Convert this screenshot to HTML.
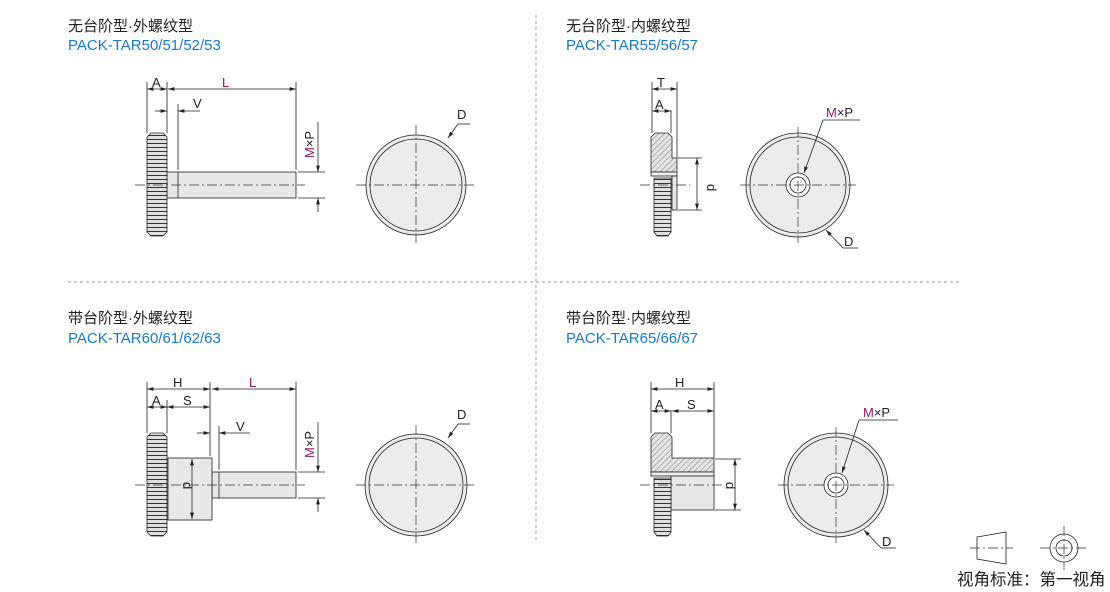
<!DOCTYPE html>
<html><head><meta charset="utf-8"><style>
html,body{margin:0;padding:0;background:#fff;width:1110px;height:592px;overflow:hidden}
svg{display:block}
text{font-family:"Liberation Sans","Noto Sans CJK SC",sans-serif}
</style></head><body>
<svg width="1110" height="592" viewBox="0 0 1110 592" xmlns="http://www.w3.org/2000/svg">
<defs>
<pattern id="h" width="4" height="4" patternUnits="userSpaceOnUse" patternTransform="rotate(45)">
<rect width="4" height="4" fill="#e4e4e4"/><line x1="0" y1="0" x2="0" y2="4" stroke="#666" stroke-width="0.8"/></pattern>
<pattern id="k" width="20" height="4" patternUnits="userSpaceOnUse">
<rect width="20" height="4" fill="#e0e0e0"/><line x1="0" y1="3.5" x2="20" y2="3.5" stroke="#333" stroke-width="1.1"/></pattern>
<marker id="a" viewBox="0 0 10 6" refX="10" refY="3" markerWidth="8" markerHeight="5" orient="auto-start-reverse"><path d="M0,0L10,3L0,6z" fill="#222"/></marker>
</defs>
<g font-size="15">
<text x="68" y="31" fill="#222">无台阶型·外螺纹型</text>
<text x="68" y="50" fill="#1a7ac8">PACK-TAR50/51/52/53</text>
<text x="566" y="31" fill="#222">无台阶型·内螺纹型</text>
<text x="566" y="50" fill="#1a7ac8">PACK-TAR55/56/57</text>
<text x="68" y="323" fill="#222">带台阶型·外螺纹型</text>
<text x="68" y="343" fill="#1a7ac8">PACK-TAR60/61/62/63</text>
<text x="566" y="323" fill="#222">带台阶型·内螺纹型</text>
<text x="566" y="343" fill="#1a7ac8">PACK-TAR65/66/67</text>
</g>
<g stroke="#999" stroke-width="1" stroke-dasharray="3,3" fill="none">
<line x1="536" y1="15" x2="536" y2="540"/><line x1="68" y1="282" x2="962" y2="282"/>
</g>
<g stroke="#222" stroke-width="0.8" fill="none">
<rect x="167" y="172" width="129" height="26" fill="#e8e8e8"/>
<line x1="178" y1="172" x2="178" y2="198"/>
<path d="M151,133h12l4,4v95l-4,4h-12l-4,-4v-95z" fill="url(#k)"/>
<line x1="147" y1="82" x2="147" y2="133"/><line x1="167" y1="82" x2="167" y2="133"/><line x1="296" y1="82" x2="296" y2="170"/><line x1="178" y1="104" x2="178" y2="170"/>
<line x1="147" y1="89" x2="167" y2="89" marker-start="url(#a)" marker-end="url(#a)"/>
<line x1="168" y1="89" x2="296" y2="89" marker-start="url(#a)" marker-end="url(#a)"/>
<line x1="155" y1="111" x2="167" y2="111" marker-end="url(#a)"/><line x1="200" y1="111" x2="178" y2="111" marker-end="url(#a)"/>
<line x1="298" y1="172" x2="325" y2="172"/><line x1="298" y1="198" x2="325" y2="198"/>
<line x1="318" y1="122" x2="318" y2="172" marker-end="url(#a)"/><line x1="318" y1="212" x2="318" y2="198" marker-end="url(#a)"/>
<circle cx="416" cy="185" r="50" fill="#ececec"/><circle cx="416" cy="185" r="46"/>
<line x1="448" y1="138" x2="458" y2="124" marker-start="url(#a)"/><line x1="458" y1="124" x2="470" y2="124"/>
<path d="M655,133h13l4,4v21h5v14h-26v-35z" fill="url(#h)"/>
<rect x="651" y="172" width="26" height="4" fill="#eee"/>
<rect x="672" y="176" width="5" height="34" fill="#e8e8e8"/>
<path d="M654,178h17v54l-3,4h-11l-3,-4z" fill="url(#k)"/>
<line x1="652" y1="82" x2="652" y2="133"/><line x1="677" y1="82" x2="677" y2="158"/><line x1="671" y1="110" x2="671" y2="133"/>
<line x1="652" y1="89" x2="677" y2="89" marker-start="url(#a)" marker-end="url(#a)"/>
<line x1="652" y1="111" x2="671" y2="111" marker-start="url(#a)" marker-end="url(#a)"/>
<line x1="678" y1="158" x2="702" y2="158"/><line x1="678" y1="210" x2="702" y2="210"/>
<line x1="697" y1="158" x2="697" y2="210" marker-start="url(#a)" marker-end="url(#a)"/>
<circle cx="798" cy="185" r="52" fill="#ececec"/><circle cx="798" cy="185" r="48"/>
<circle cx="798" cy="185" r="12" fill="#fff"/><circle cx="798" cy="185" r="8"/>
<line x1="823" y1="120" x2="804" y2="173" marker-end="url(#a)"/><line x1="823" y1="120" x2="860" y2="120"/>
<line x1="843" y1="248" x2="826" y2="230" marker-end="url(#a)"/><line x1="843" y1="248" x2="858" y2="248"/>
<rect x="212" y="472" width="84" height="26" fill="#e8e8e8"/><line x1="219" y1="472" x2="219" y2="498"/>
<rect x="168" y="458" width="44" height="62" fill="#e8e8e8"/>
<path d="M151,433h12l4,4v95l-4,4h-12l-4,-4v-95z" fill="url(#k)"/>
<line x1="147" y1="382" x2="147" y2="433"/><line x1="167" y1="400" x2="167" y2="433"/><line x1="210" y1="382" x2="210" y2="456"/><line x1="296" y1="382" x2="296" y2="470"/><line x1="219" y1="426" x2="219" y2="470"/>
<line x1="147" y1="389" x2="210" y2="389" marker-start="url(#a)" marker-end="url(#a)"/>
<line x1="212" y1="389" x2="296" y2="389" marker-start="url(#a)" marker-end="url(#a)"/>
<line x1="147" y1="407" x2="167" y2="407" marker-start="url(#a)" marker-end="url(#a)"/>
<line x1="167" y1="407" x2="210" y2="407" marker-start="url(#a)" marker-end="url(#a)"/>
<line x1="197" y1="433" x2="210" y2="433" marker-end="url(#a)"/><line x1="250" y1="433" x2="219" y2="433" marker-end="url(#a)"/>
<line x1="192" y1="459" x2="192" y2="519" marker-start="url(#a)" marker-end="url(#a)"/>
<line x1="298" y1="472" x2="325" y2="472"/><line x1="298" y1="498" x2="325" y2="498"/>
<line x1="318" y1="422" x2="318" y2="472" marker-end="url(#a)"/><line x1="318" y1="512" x2="318" y2="498" marker-end="url(#a)"/>
<circle cx="416" cy="485" r="51" fill="#ececec"/><circle cx="416" cy="485" r="47"/>
<line x1="448" y1="438" x2="458" y2="424" marker-start="url(#a)"/><line x1="458" y1="424" x2="470" y2="424"/>
<path d="M655,433h13l4,4v21h42v14h-63v-35z" fill="url(#h)"/>
<rect x="651" y="472" width="63" height="4" fill="#eee"/>
<rect x="671" y="476" width="43" height="34" fill="#e8e8e8"/>
<path d="M654,478h17v54l-3,4h-11l-3,-4z" fill="url(#k)"/>
<line x1="651" y1="382" x2="651" y2="433"/><line x1="671" y1="410" x2="671" y2="433"/><line x1="714" y1="382" x2="714" y2="458"/>
<line x1="651" y1="389" x2="714" y2="389" marker-start="url(#a)" marker-end="url(#a)"/>
<line x1="651" y1="411" x2="671" y2="411" marker-start="url(#a)" marker-end="url(#a)"/>
<line x1="672" y1="411" x2="714" y2="411" marker-start="url(#a)" marker-end="url(#a)"/>
<line x1="715" y1="459" x2="741" y2="459"/><line x1="715" y1="510" x2="741" y2="510"/>
<line x1="735" y1="459" x2="735" y2="510" marker-start="url(#a)" marker-end="url(#a)"/>
<circle cx="836" cy="485" r="52" fill="#ececec"/><circle cx="836" cy="485" r="48"/>
<circle cx="836" cy="485" r="12" fill="#fff"/><circle cx="836" cy="485" r="8"/>
<line x1="859" y1="420" x2="842" y2="473" marker-end="url(#a)"/><line x1="859" y1="420" x2="898" y2="420"/>
<line x1="881" y1="548" x2="864" y2="530" marker-end="url(#a)"/><line x1="881" y1="548" x2="896" y2="548"/>
<path d="M977,537L1006,532V564L977,559z" fill="none"/>
<circle cx="1064" cy="548" r="14"/><circle cx="1064" cy="548" r="8"/>
</g>
<g stroke="#333" stroke-width="0.7" stroke-dasharray="10,3,2,3" fill="none">
<line x1="135" y1="185" x2="305" y2="185"/><line x1="356" y1="185" x2="476" y2="185"/><line x1="416" y1="125" x2="416" y2="245"/>
<line x1="640" y1="185" x2="690" y2="185"/><line x1="740" y1="185" x2="856" y2="185"/><line x1="798" y1="127" x2="798" y2="243"/>
<line x1="135" y1="485" x2="305" y2="485"/><line x1="356" y1="485" x2="476" y2="485"/><line x1="416" y1="425" x2="416" y2="545"/>
<line x1="640" y1="485" x2="725" y2="485"/><line x1="778" y1="485" x2="894" y2="485"/><line x1="836" y1="427" x2="836" y2="543"/>
<line x1="970" y1="548" x2="1013" y2="548"/><line x1="1040" y1="548" x2="1088" y2="548"/><line x1="1064" y1="526" x2="1064" y2="570"/>
</g>
<g font-size="13" fill="#222">
<text x="152" y="87">A</text><text x="222" y="87" fill="#8a1a6e">L</text><text x="193" y="108">V</text><text x="457" y="119">D</text>
<text x="657" y="87">T</text><text x="655" y="109">A</text><text x="826" y="117"><tspan fill="#8a1a6e">M</tspan>×P</text><text x="844" y="246">D</text>
<text x="173" y="387">H</text><text x="249" y="387" fill="#8a1a6e">L</text><text x="152" y="405">A</text><text x="183" y="405">S</text><text x="236" y="431">V</text><text x="457" y="419">D</text>
<text x="675" y="387">H</text><text x="655" y="409">A</text><text x="687" y="409">S</text><text x="863" y="417"><tspan fill="#8a1a6e">M</tspan>×P</text><text x="882" y="546">D</text>
<text transform="translate(314,158) rotate(-90)"><tspan fill="#8a1a6e">M</tspan>×P</text>
<text transform="translate(314,458) rotate(-90)"><tspan fill="#8a1a6e">M</tspan>×P</text>
<text transform="translate(707,184) rotate(90)">d</text>
<text transform="translate(183,482) rotate(90)">d</text>
<text transform="translate(726,482) rotate(90)">d</text>
</g>
<text x="957" y="585" font-size="16.5" fill="#222">视角标准：第一视角</text>
</svg>
</body></html>
